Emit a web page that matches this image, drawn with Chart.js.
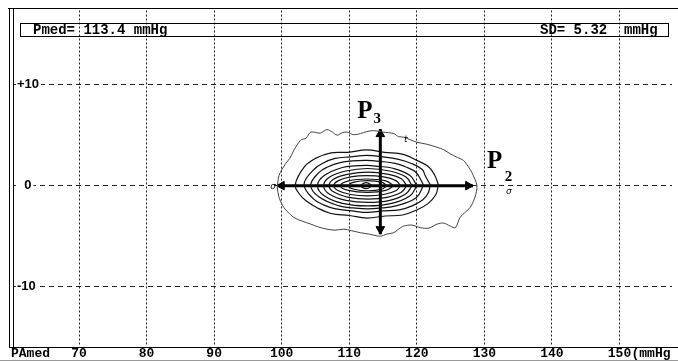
<!DOCTYPE html>
<html>
<head>
<meta charset="utf-8">
<script src="https://cdn.jsdelivr.net/npm/chart.js@4/dist/chart.umd.min.js"></script>
<style>
  body { margin: 0; background: #fff; }
  canvas { display: block; }
</style>
</head>
<body>
<canvas id="myChart" width="678" height="361"></canvas>
<script>
// axis ticks (mmHg)
const xTicks = [70, 80, 90, 100, 110, 120, 130, 140, 150];
const yTicks = [-10, 0, 10];

const pMed = 113.4;
const sd = 5.32;

// iso-density contours (outermost first)
const contourOuter = [[99.35,-0.2],[99.6,1.0],[100.6,2.2],[101.2,2.7],[101.8,3.5],[102.8,4.5],[103.6,4.7],[104.3,5.3],[105.7,5.2],[106.7,5.55],[107.5,5.3],[108.2,5.0],[109.0,5.25],[109.7,5.3],[110.6,5.05],[111.65,5.15],[112.6,5.35],[113.6,5.45],[115.0,5.3],[116.6,5.15],[117.3,4.85],[118.05,4.8],[119.0,4.55],[120.0,4.3],[121.5,4.1],[123.0,3.8],[124.0,3.55],[124.95,3.15],[126.0,2.8],[126.9,2.5],[127.6,1.9],[128.15,1.3],[128.9,0.0],[128.6,-1.15],[127.9,-2.15],[127.2,-2.6],[126.4,-3.15],[125.7,-4.15],[124.95,-4.0],[124.0,-3.7],[123.0,-3.8],[121.8,-4.2],[120.5,-4.15],[119.3,-3.9],[118.05,-4.0],[117.2,-4.35],[116.6,-4.65],[115.5,-4.8],[114.6,-5.0],[113.0,-4.8],[111.65,-4.65],[110.3,-4.45],[109.2,-4.3],[107.9,-4.4],[106.7,-4.3],[105.5,-4.1],[104.3,-3.8],[103.0,-3.5],[101.8,-3.15],[100.9,-2.6],[100.3,-2.15],[99.6,-1.15],[99.35,-0.2]];
const contour2 = [[123.2,0.1],[122.6,1.1],[121.7,1.9],[120.0,2.5],[118.0,3.1],[115.2,3.3],[112.6,3.55],[109.8,3.3],[107.3,3.25],[105.0,2.7],[103.4,1.9],[102.0,0.1],[102.6,-0.8],[103.6,-1.5],[105.3,-2.2],[107.3,-2.75],[110.0,-2.95],[112.6,-3.2],[115.3,-3.0],[117.9,-2.9],[120.0,-2.4],[121.6,-1.8],[122.8,-0.9],[123.2,0.1]];
const contour3 = [[122.0,0.1],[121.3,0.9],[120.8,1.6],[119.2,2.2],[117.3,2.6],[115.0,2.85],[112.6,3.0],[110.2,2.85],[107.9,2.7],[106.0,2.2],[104.6,1.5],[103.3,0.1],[104.7,-1.3],[106.2,-1.9],[108.0,-2.3],[110.4,-2.5],[112.7,-2.65],[115.0,-2.5],[117.4,-2.4],[119.3,-2.0],[120.9,-1.4],[121.7,-0.7],[122.0,0.1]];
const contour4 = [[121.0,0.05],[119.9,1.3],[118.4,1.85],[116.8,2.2],[114.6,2.4],[112.6,2.5],[110.5,2.45],[108.5,2.25],[106.8,1.85],[105.5,1.3],[104.3,0.05],[105.5,-1.1],[108.5,-2.0],[110.6,-2.2],[112.7,-2.3],[114.8,-2.2],[116.9,-2.0],[119.9,-1.2],[121.0,0.05]];
const contour5 = [[120.0,0.0],[119.0,1.0],[116.3,1.75],[114.4,1.9],[112.6,2.0],[110.8,1.95],[109.0,1.8],[106.3,1.0],[105.3,0.0],[106.3,-1.0],[109.0,-1.75],[112.7,-2.0],[116.3,-1.75],[119.0,-1.0],[120.0,0.0]];
const contour6 = [[119.3,0.0],[118.4,0.85],[116.0,1.45],[112.7,1.7],[109.5,1.45],[107.1,0.85],[106.2,0.0],[107.1,-0.85],[109.5,-1.45],[112.8,-1.66],[116.0,-1.45],[118.4,-0.8],[119.3,0.0]];
const contour7 = [[118.5,0.0],[117.7,0.68],[115.6,1.15],[112.8,1.35],[109.9,1.15],[107.8,0.68],[107.0,0.0],[107.8,-0.66],[109.9,-1.15],[112.8,-1.33],[115.6,-1.15],[117.7,-0.66],[118.5,0.0]];
const contour8 = [[117.6,0.0],[116.9,0.5],[115.1,0.87],[112.6,1.0],[110.2,0.87],[108.4,0.5],[107.7,0.0],[108.4,-0.5],[110.2,-0.87],[112.7,-1.0],[115.1,-0.87],[116.9,-0.5],[117.6,0.0]];
const contour9 = [[116.6,0.0],[115.4,0.47],[112.6,0.66],[109.9,0.47],[108.7,0.0],[109.9,-0.47],[112.7,-0.66],[115.4,-0.47],[116.6,0.0]];
const contour10 = [[115.6,0.0],[114.8,0.35],[112.7,0.5],[110.7,0.35],[109.9,0.0],[110.7,-0.35],[112.8,-0.5],[114.8,-0.35],[115.6,0.0]];
const contour11 = [[113.4,0.0],[112.55,0.3],[111.7,0.0],[112.55,-0.3],[113.4,0.0]];

// principal axes
const axisP2 = [[99.3, 0], [128.3, 0]];
const axisP3 = [[114.6, 5.6], [114.6, -4.8]];
const arrowHeads = [[100.0, 0], [127.6, 0], [114.6, 5.1], [114.6, -4.3]];
const arrowTurn = [-90, 90, 0, 180];

const innerContours = [contour2, contour3, contour4, contour5, contour6, contour7, contour8, contour9, contour10, contour11];
const toPts = arr => arr.map(p => ({ x: p[0], y: p[1] }));

const datasets = [];
datasets.push({ data: toPts(contourOuter), showLine: true, borderColor: '#444', borderWidth: 1, pointRadius: 0, tension: 0.3 });
innerContours.forEach(c => {
  datasets.push({ data: toPts(c), showLine: true, borderColor: '#111', borderWidth: 1.2, pointRadius: 0, tension: 0.4 });
});
datasets.push({ data: toPts(axisP2), showLine: true, borderColor: '#000', borderWidth: 3, pointRadius: 0 });
datasets.push({ data: toPts(axisP3), showLine: true, borderColor: '#000', borderWidth: 3, pointRadius: 0 });
datasets.push({ data: toPts(arrowHeads), showLine: false, pointStyle: 'triangle', pointRadius: 5,
  pointRotation: arrowTurn, backgroundColor: '#000', borderColor: '#000', borderWidth: 1 });

const mono = '"Liberation Mono", "DejaVu Sans Mono", monospace';

const frame = {
  id: 'frame',
  beforeDraw(chart) {
    const ctx = chart.ctx;
    ctx.save();
    ctx.fillStyle = '#fff';
    ctx.fillRect(0, 0, chart.width, chart.height);
    ctx.restore();
  },
  afterDraw(chart) {
    const ctx = chart.ctx;
    const xs = chart.scales.x, ys = chart.scales.y;
    ctx.save();
    ctx.strokeStyle = '#000';
    ctx.lineWidth = 1;
    ctx.beginPath();
    ctx.moveTo(8, 8.5); ctx.lineTo(678, 8.5);
    ctx.moveTo(9.5, 8); ctx.lineTo(9.5, 348);
    ctx.moveTo(13.5, 8); ctx.lineTo(13.5, 348);
    ctx.moveTo(9, 347.5); ctx.lineTo(678, 347.5);
    ctx.stroke();
    ctx.strokeStyle = '#999';
    ctx.beginPath();
    ctx.moveTo(0, 360.5); ctx.lineTo(678, 360.5);
    ctx.stroke();

    // header box
    ctx.strokeStyle = '#000';
    ctx.strokeRect(20.5, 23.5, 648, 13);
    ctx.fillStyle = '#000';
    ctx.font = 'bold 14px ' + mono;
    ctx.textBaseline = 'middle';
    ctx.textAlign = 'left';
    ctx.fillText('Pmed= ' + pMed.toFixed(1) + ' mmHg', 33, 30.5);
    ctx.fillText('SD= ' + sd.toFixed(2) + '  mmHg', 540, 30.5);

    // axis captions
    ctx.font = 'bold 13px ' + mono;
    ctx.textBaseline = 'middle';
    ctx.fillText('PAmed', 11, 354);
    ctx.fillText('(mmHg', xs.getPixelForValue(150) + 12, 354);

    // principal axis labels
    ctx.font = 'bold 25px "Liberation Serif", "DejaVu Serif", serif';
    ctx.textBaseline = 'alphabetic';
    ctx.fillText('P', xs.getPixelForValue(111.2), ys.getPixelForValue(6.7));
    ctx.fillText('P', xs.getPixelForValue(130.4), ys.getPixelForValue(1.7));
    ctx.font = 'bold 15px "Liberation Serif", "DejaVu Serif", serif';
    ctx.fillText('3', xs.getPixelForValue(113.6), ys.getPixelForValue(6.2));
    ctx.fillText('2', xs.getPixelForValue(133.0), ys.getPixelForValue(0.5));
    ctx.font = 'italic 9px "DejaVu Sans", sans-serif';
    ctx.fillText('σ', xs.getPixelForValue(98.3), ys.getPixelForValue(-0.3));
    ctx.fillText('σ', xs.getPixelForValue(133.2), ys.getPixelForValue(-0.8));
    ctx.fillText('t', xs.getPixelForValue(118.1), ys.getPixelForValue(4.3));
    ctx.restore();
  }
};

new Chart(document.getElementById('myChart'), {
  type: 'scatter',
  data: { datasets },
  options: {
    responsive: false,
    animation: false,
    devicePixelRatio: 1,
    layout: { padding: { left: 5, top: 8, right: 0, bottom: 0 } },
    plugins: { legend: { display: false }, tooltip: { enabled: false } },
    scales: {
      x: {
        type: 'linear',
        min: 60.23,
        max: 157.77,
        afterBuildTicks: s => { s.ticks = xTicks.map(v => ({ value: v })); },
        grid: { color: '#222', lineWidth: 1, drawTicks: false, borderDash: [2, 2] },
        border: { display: false, dash: [2, 2] },
        ticks: {
          padding: 1,
          color: '#000',
          maxRotation: 0,
          autoSkip: false,
          font: { family: mono, size: 13, weight: 'bold', lineHeight: 1 },
          callback: v => String(v)
        }
      },
      y: {
        type: 'linear',
        min: -15.86,
        max: 17.33,
        afterBuildTicks: s => { s.ticks = yTicks.map(v => ({ value: v })); },
        grid: { color: '#222', lineWidth: 1, drawTicks: false, borderDash: [5, 4] },
        border: { display: false, dash: [5, 4] },
        ticks: {
          mirror: true,
          padding: 4,
          color: '#000',
          showLabelBackdrop: true,
          backdropColor: '#fff',
          backdropPadding: { left: 1, right: 2, top: 0, bottom: 0 },
          font: { family: '"Liberation Sans", Arial, sans-serif', size: 13, weight: 'bold', lineHeight: 1 },
          callback: v => (v > 0 ? '+' + v : (v === 0 ? '  0' : String(v)))
        }
      }
    }
  },
  plugins: [frame]
});
</script>
</body>
</html>
